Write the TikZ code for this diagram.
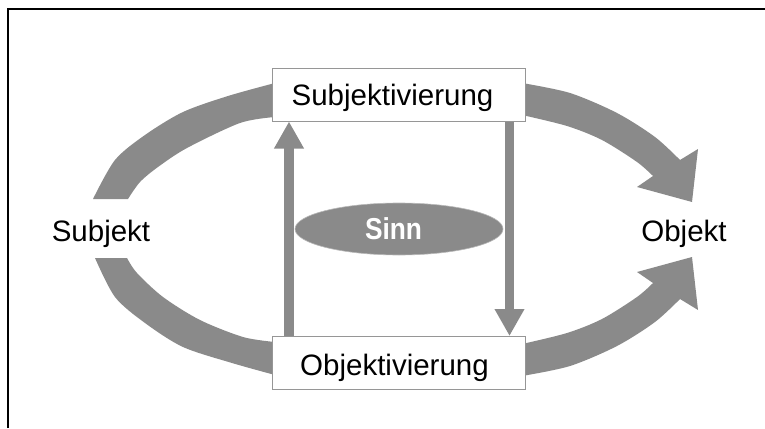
\documentclass[tikz,border=0pt]{standalone}
\usepackage{fontspec}
\setmainfont{Liberation Sans}
\usetikzlibrary{arrows.meta,shapes.geometric}
\definecolor{ag}{RGB}{138,138,138}
\definecolor{boxgray}{RGB}{150,150,150}
\tikzset{
  boxnode/.style={rectangle, draw=boxgray, line width=1pt, fill=white, inner sep=0pt,
                  minimum width=253pt, minimum height=53pt},
  lbl/.style={anchor=base, inner sep=0pt, font=\fontsize{29.5}{35}\selectfont},
  varrow/.style={draw=ag, line width=9.5pt, -{Triangle[width=28pt,length=27pt]}},
  bigarc/.style={fill=ag},
}
\begin{document}
\begin{tikzpicture}[x=1pt,y=-1pt]
\useasboundingbox (0,0) rectangle (765,428);
\draw[line width=2pt, line join=miter] (8,428) -- (8,9) -- (765,9);

% big curved arrows
\fill[bigarc] plot[smooth,tension=0.5] coordinates {(93,199) (115,160) (145,135) (183,112) (228,96) (275,83)}
   -- plot[smooth,tension=0.5] coordinates {(275,117) (240,123) (187,148) (158,167) (140,182) (128,199)} -- cycle;
\fill[bigarc] plot[smooth,tension=0.5] coordinates {(95,258) (115,297) (145,323) (183,347) (232,363) (275,375)}
   -- plot[smooth,tension=0.5] coordinates {(275,342) (243,337) (200,320) (163,297) (137,273) (127,258)} -- cycle;
\fill[bigarc] plot[smooth,tension=0.5] coordinates {(522,83) (570,93) (617,113) (655,137) (680,160)}
   -- (698,149) -- (692,202) -- (637,187) --
   plot[smooth,tension=0.5] coordinates {(653,176) (637,162) (602,140) (567,126) (522,115)} -- cycle;
\fill[bigarc] plot[smooth,tension=0.5] coordinates {(522,376) (570,366) (617,346) (655,322) (680,299)}
   -- (698,310) -- (692,257) -- (637,272) --
   plot[smooth,tension=0.5] coordinates {(653,283) (637,297) (602,319) (567,333) (522,344)} -- cycle;

% boxes
\node[boxnode] (subj) at (398.5,94.5) {};
\node[boxnode] (obj) at (398.5,363) {};
\node[lbl] (subjt) at (392.5,105) {Subjektivierung};
\node[lbl] (objt) at (394.5,375) {Objektivierung};

% vertical arrows
\coordinate (ux) at (289,0);
\coordinate (dx) at (509.5,0);
\draw[varrow] (obj.north -| ux) -- (subj.south -| ux);
\draw[varrow] (subj.south -| dx) -- (obj.north -| dx);

% Sinn
\node[ellipse, fill=ag, draw=ag!60, line width=0.6pt, minimum width=208pt, minimum height=52pt, inner sep=0pt] (sinn) at (399,229) {};
\node[inner sep=0pt, text=white, font=\bfseries\fontsize{26.3}{30}\selectfont] (sinnt) at (393.5,229) {\scalebox{1}[1.15]{Sinn}};

% side labels
\node[lbl] (subjekt) at (101,241.5) {Subjekt};
\node[lbl] (objekt) at (684,241.5) {Objekt};
\end{tikzpicture}
\end{document}
